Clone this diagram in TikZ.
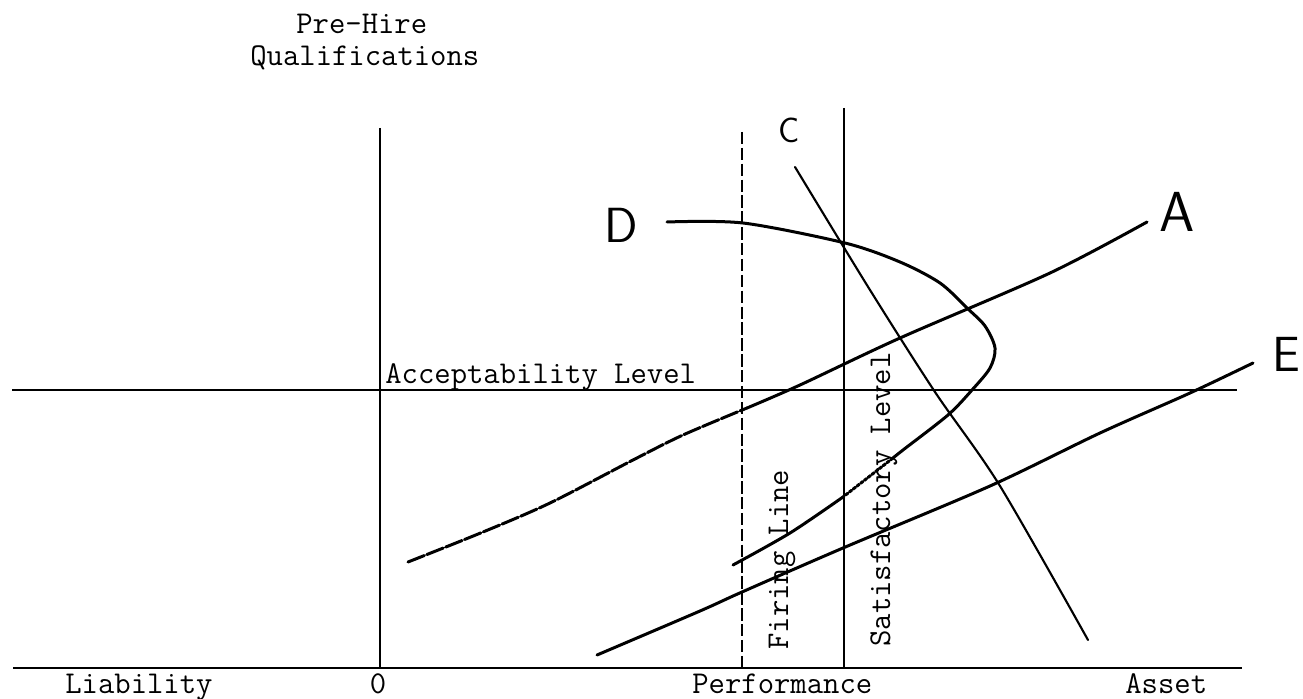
\documentclass[tikz,border=0pt]{standalone}
\usepackage{fontspec}
\usepackage{tikz}
\usetikzlibrary{positioning}
\begin{document}
\begin{tikzpicture}[x=0.567pt,y=-0.567pt,
 txt/.style={font=\fontsize{18}{22}\selectfont\ttfamily,inner sep=0pt},
 hand/.style={font=\fontsize{28}{30}\selectfont\sffamily,inner sep=0pt},
 axis/.style={line width=1.4pt},
 curve/.style={line width=1.7pt,line cap=round,line join=round}]
 \useasboundingbox (0,0) rectangle (1303,699);
 \node[txt,anchor=base west] (pre) at (296,34) {Pre-Hire};
 \node[txt,anchor=base west] (qual) at (250,66) {Qualifications};
 \node[txt,anchor=base west] (liab) at (65,693) {Liability};
 \node[txt,anchor=base] (zlbl) at (378,693) {0};
 \node[txt,anchor=base west] (perf) at (692,693) {Performance};
 \node[txt,anchor=base west] (asset) at (1125,693) {Asset};
 \node[txt,anchor=base west] (accept) at (385,383) {Acceptability Level};
 \node[txt,rotate=90,anchor=base west] (fire) at (788,650) {Firing Line};
 \node[txt,rotate=90,anchor=base west] (sat) at (890,647) {Satisfactory Level};
 \node[hand,font=\fontsize{20}{22}\selectfont\sffamily] (lblC) at (789,130) {C};
 \node[hand] (lblD) at (621,225) {D};
 \node[hand,font=\fontsize{32}{34}\selectfont\sffamily] (lblA) at (1177,212) {A};
 \node[hand,anchor=east] (lblE) at (1301,354) {E};
 \coordinate (axL) at (13,668); \coordinate (axR) at (1242,668);
 \coordinate (accL) at (12,390); \coordinate (accR) at (1237,390);
 \coordinate (zeroTop) at (380,128); \coordinate (zeroBot) at (380,668);
 \coordinate (fireTop) at (742,132); \coordinate (fireBot) at (742,668);
 \coordinate (satTop) at (844,108); \coordinate (satBot) at (844,668);
 \draw[axis] (axL)--(axR); \draw[axis] (accL)--(accR); \draw[axis] (zeroTop)--(zeroBot);
 \draw[axis,dash pattern=on 7pt off 2pt] (fireTop)--(fireBot); \draw[axis] (satTop)--(satBot);
 \draw[curve,dash pattern=on 10pt off 1.5pt] plot[smooth] coordinates {(408,562) (483,532) (550,503) (633,460) (683,435) (747,408)};
 \draw[curve] plot[smooth] coordinates {(747,408) (800,385) (900,338) (1050,273) (1147,222)};
 \draw[curve] plot[smooth] coordinates {(597,655) (700,611) (742,592) (843,548) (990,486) (1100,433) (1190,393) (1253,363)};
 \draw[curve,line width=1.2pt] plot[smooth] coordinates {(795,167) (870,290) (935,392) (1000,486) (1088,640)};
 \draw[curve] plot[smooth] coordinates {(667,222) (743,223) (845,243) (900,262) (940,283) (967,308) (985,326) (995,348) (990,368) (972,390) (948,415) (903,450) (893,458)};
 \draw[curve,densely dotted] (893,458)--(843,497);
 \draw[curve] plot[smooth] coordinates {(843,497) (790,533) (733,565)};
\end{tikzpicture}
\end{document}
